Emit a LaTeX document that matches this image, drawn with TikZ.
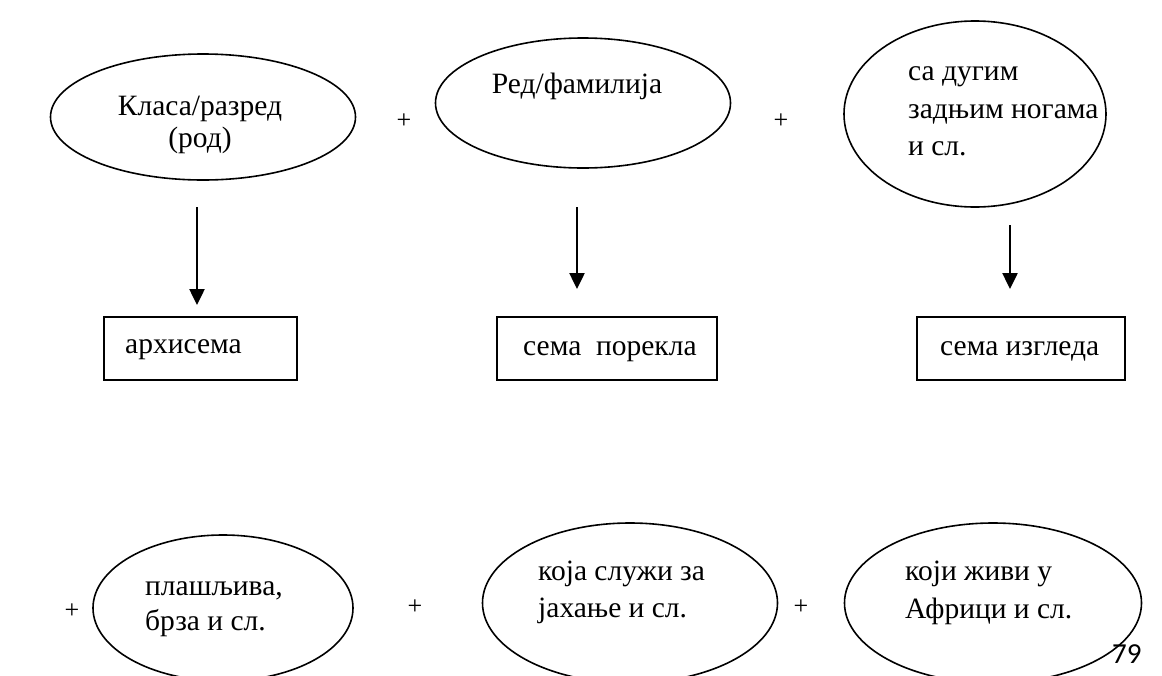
\documentclass[tikz,border=0pt]{standalone}
\usepackage{fontspec}
\setmainfont{Liberation Serif}
\newfontfamily\pagefont{Carlito}
\usetikzlibrary{shapes.geometric,arrows.meta}
\begin{document}
\begin{tikzpicture}[x=1pt,y=-1pt,
  oval/.style={draw,ellipse,line width=1.6pt,inner sep=0pt},
  semabox/.style={draw,rectangle,line width=1.6pt,inner sep=0pt},
  txt/.style={font=\fontsize{29.5}{34}\selectfont,inner sep=0pt,anchor=base west},
  ctxt/.style={font=\fontsize{29.5}{34}\selectfont,inner sep=0pt,anchor=base},
  plus/.style={font=\fontsize{26}{30}\selectfont,inner sep=0pt},
  arr/.style={line width=2.5pt,-{Triangle[width=15pt,length=16pt]}}]
\useasboundingbox (0,0) rectangle (1162,675);
\clip (0,0) rectangle (1162,675);
% top ellipses
\node[oval,minimum width=305pt,minimum height=126pt] (e1) at (203,117) {};
\node[oval,minimum width=295pt,minimum height=130pt] (e2) at (583,103) {};
\node[oval,minimum width=262pt,minimum height=186pt] (e3) at (975,114) {};
\node[ctxt] (t1a) at (200,115) {Класа/разред};
\node[ctxt] (t1b) at (200,147) {(род)};
\node[ctxt] (t2a) at (577,93) {Ред/фамилија};
\node[txt] (t3a) at (908,80) {са дугим};
\node[txt] (t3b) at (908,118) {задњим ногама};
\node[txt] (t3c) at (908,155) {и сл.};
\node[plus] (p1) at (404,121) {+};
\node[plus] (p2) at (781,121) {+};
% boxes
\node[semabox,minimum width=193pt,minimum height=63pt] (b1) at (200.5,348.5) {};
\node[semabox,minimum width=220pt,minimum height=63pt] (b2) at (607,348.5) {};
\node[semabox,minimum width=208pt,minimum height=63pt] (b3) at (1021,348.5) {};
\node[txt] (bt1) at (125,353) {архисема};
\node[txt] (bt2) at (523,355) {сема\ \ порекла};
\node[txt] (bt3) at (940,355) {сема изгледа};
% arrows
\coordinate (a1s) at (197,207); \coordinate (a1e) at (197,305);
\coordinate (a2s) at (577,207); \coordinate (a2e) at (577,289);
\coordinate (a3s) at (1010,225); \coordinate (a3e) at (1010,289);
\draw[arr] (a1s) -- (a1e);
\draw[arr] (a2s) -- (a2e);
\draw[arr] (a3s) -- (a3e);
% bottom row
\node[oval,minimum width=260pt,minimum height=146pt] (e4) at (223,608) {};
\node[oval,minimum width=295pt,minimum height=160pt] (e5) at (630,603) {};
\node[oval,minimum width=297pt,minimum height=160pt] (e6) at (993,603) {};
\node[txt] (t4a) at (145,595) {плашљива,};
\node[txt] (t4b) at (145,630) {брза и сл.};
\node[txt] (t5a) at (538,580) {која служи за};
\node[txt] (t5b) at (538,617) {јахање и сл.};
\node[txt] (t6a) at (905,580) {који живи у};
\node[txt] (t6b) at (905,618) {Африци и сл.};
\node[plus] (p3) at (72,611) {+};
\node[plus] (p4) at (415,607) {+};
\node[plus] (p5) at (801,607) {+};
\node[anchor=base west,inner sep=0pt,font=\pagefont\fontsize{29}{30}\selectfont] (pg) at (1112,663) {79};
\end{tikzpicture}
\end{document}
